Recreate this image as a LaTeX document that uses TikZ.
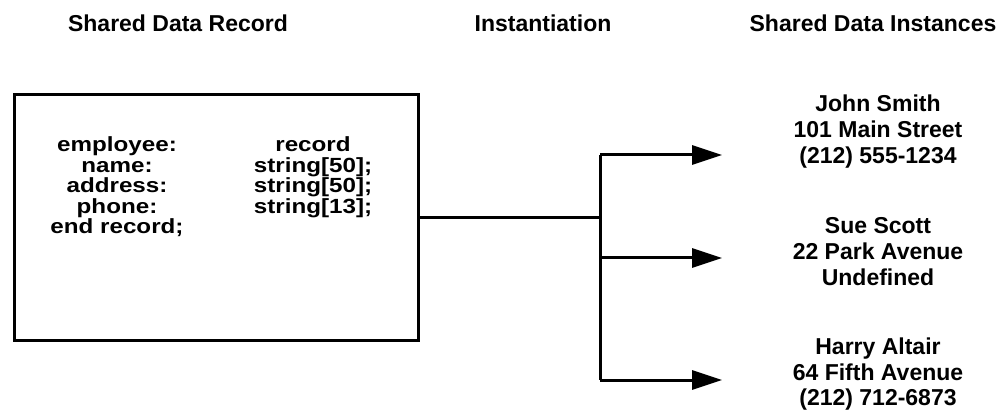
\documentclass[tikz,border=0pt]{standalone}
\usepackage{fontspec}
\setmainfont{Liberation Sans}
\newfontfamily\wideface[FakeStretch=1.18]{Liberation Sans}
\usetikzlibrary{arrows.meta}
\tikzset{
  txt/.style={anchor=base, inner sep=0pt, font=\bfseries\fontsize{23}{26}\selectfont},
  boxtxt/.style={anchor=base, inner sep=0pt, font=\wideface\bfseries\fontsize{20.5}{20.5}\selectfont},
  recbox/.style={draw, line width=3pt, inner sep=0pt},
  conn/.style={line width=3pt},
  arr/.style={line width=3pt, -{Triangle[length=30pt,width=19pt]}}
}
\begin{document}
\begin{tikzpicture}[x=1pt,y=-1pt]
\useasboundingbox (0,0) rectangle (1003,419);
% headings
\node[txt] (h1) at (178,32) {Shared Data Record};
\node[txt] (h2) at (543,32) {Instantiation};
\node[txt] (h3) at (873,32) {Shared Data Instances};
% record box
\node[recbox, minimum width=404pt, minimum height=245pt] (rec) at (216,217.5) {};
\node[boxtxt] (l1) at (117,152) {employee:};
\node[boxtxt] (l2) at (117,172.5) {name:};
\node[boxtxt] (l3) at (117,193) {address:};
\node[boxtxt] (l4) at (117,213.5) {phone:};
\node[boxtxt] (l5) at (117,234) {end record;};
\node[boxtxt] (r1) at (313,152) {record};
\node[boxtxt] (r2) at (313,172.5) {string[50];};
\node[boxtxt] (r3) at (313,193) {string[50];};
\node[boxtxt] (r4) at (313,213.5) {string[13];};
% instances
\node[txt] (a1) at (878,112) {John Smith};
\node[txt] (a2) at (878,138) {101 Main Street};
\node[txt] (a3) at (878,164) {(212) 555-1234};
\node[txt] (b1) at (878,234) {Sue Scott};
\node[txt] (b2) at (878,260) {22 Park Avenue};
\node[txt] (b3) at (878,286) {Undefined};
\node[txt] (c1) at (878,354) {Harry Altair};
\node[txt] (c2) at (878,380) {64 Fifth Avenue};
\node[txt] (c3) at (878,405) {(212) 712-6873};
% connectors
\coordinate (split) at (600,217.5);
\coordinate (top) at (600,155);
\coordinate (mid) at (600,258);
\coordinate (bot) at (600,380);
\coordinate (e1) at (722,155);
\coordinate (e2) at (722,258);
\coordinate (e3) at (722,380);
\draw[conn] (rec.east) -- (split);
\draw[conn] (top) -- (bot);
\draw[arr] (top) -- (e1);
\draw[arr] (mid) -- (e2);
\draw[arr] (bot) -- (e3);
\end{tikzpicture}
\end{document}
